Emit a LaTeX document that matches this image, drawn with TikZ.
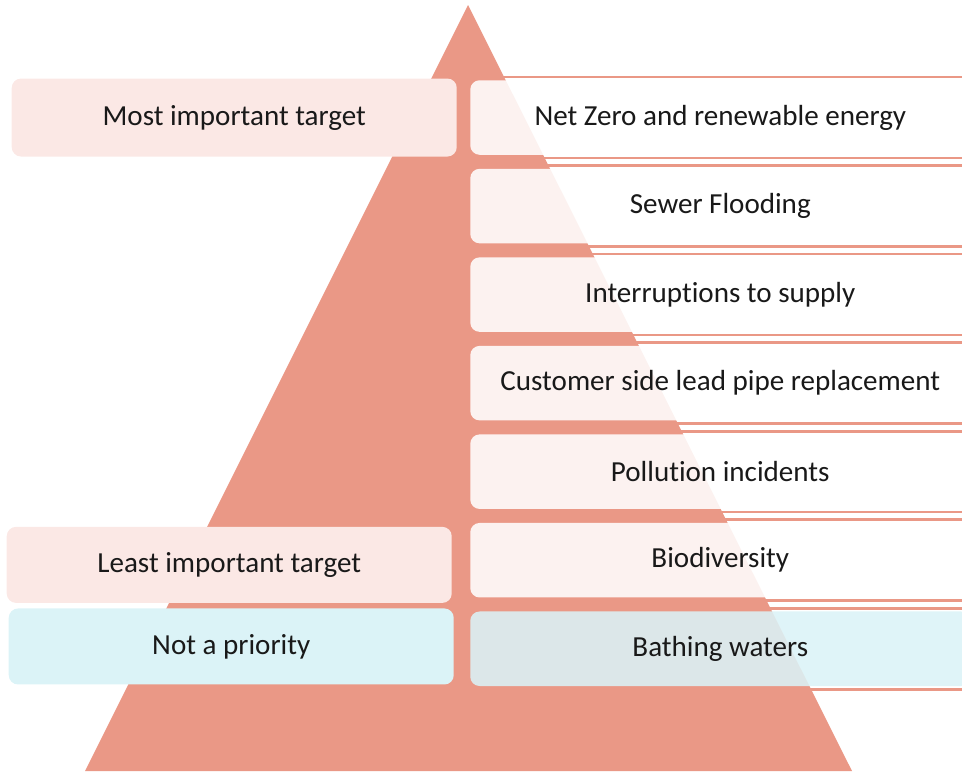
\documentclass[tikz,border=0pt]{standalone}
\usepackage{fontspec}
\setmainfont[Ligatures=NoCommon]{Carlito}
\usepackage{tikz}
\usetikzlibrary{positioning, calc}

\definecolor{pyramid}{RGB}{234,152,134}
\definecolor{targetpink}{RGB}{251,232,229}
\definecolor{nopriority}{RGB}{219,243,247}

\begin{document}
\begin{tikzpicture}[
        x=0.75pt, y=-0.75pt,
        node distance=10.1pt,
        target/.style={rectangle, rounded corners=7pt, minimum width=333.75pt, minimum height=57pt, inner sep=0pt, align=center, font=\fontsize{21.8}{26}\selectfont, text=black!90},
        row/.style={rectangle, rounded corners=7pt, minimum width=375pt, minimum height=55.9pt, inner sep=0pt, align=center, font=\fontsize{21.8}{26}\selectfont, text=black!90, fill opacity=0.88, text opacity=1},
        band/.style={line width=2pt, pyramid}
    ]
        \useasboundingbox (0,0) rectangle (962,771);
        \clip (0,0) rectangle (962,771);

        % pyramid
        \fill[pyramid] (85,771) -- (468,5) -- (852,771) -- cycle;

        % targets, top to bottom
        \node[row, fill=white, anchor=north west] (r1) at (470,80) {Net Zero and renewable energy};
        \node[row, fill=white, below=of r1] (r2) {Sewer Flooding};
        \node[row, fill=white, below=of r2] (r3) {Interruptions to supply};
        \node[row, fill=white, below=of r3] (r4) {Customer side lead pipe replacement};
        \node[row, fill=white, below=of r4] (r5) {Pollution incidents};
        \node[row, fill=white, below=of r5] (r6) {Biodiversity};
        \node[row, fill=nopriority, below=of r6] (r7) {Bathing waters};

        % salmon lines round each row
        \foreach \r in {r1,r2,r3,r4,r5,r6,r7} {
            \draw[band] ($(\r.north west)+(0,2.2pt)$) -- ($(\r.north east)+(0,2.2pt)$);
            \draw[band] ($(\r.south west)+(0,-2.2pt)$) -- ($(\r.south east)+(0,-2.2pt)$);
        }

        % key
        \node[target, fill=targetpink, minimum height=58.5pt, left=9.75pt of r1] (most) {Most important target};
        \node[target, fill=targetpink, left=13.5pt of r6, yshift=-3.5pt] (least) {Least important target};
        \node[target, fill=nopriority, left=12pt of r7, yshift=1.7pt] (notp) {Not a priority};
    \end{tikzpicture}
\end{document}
